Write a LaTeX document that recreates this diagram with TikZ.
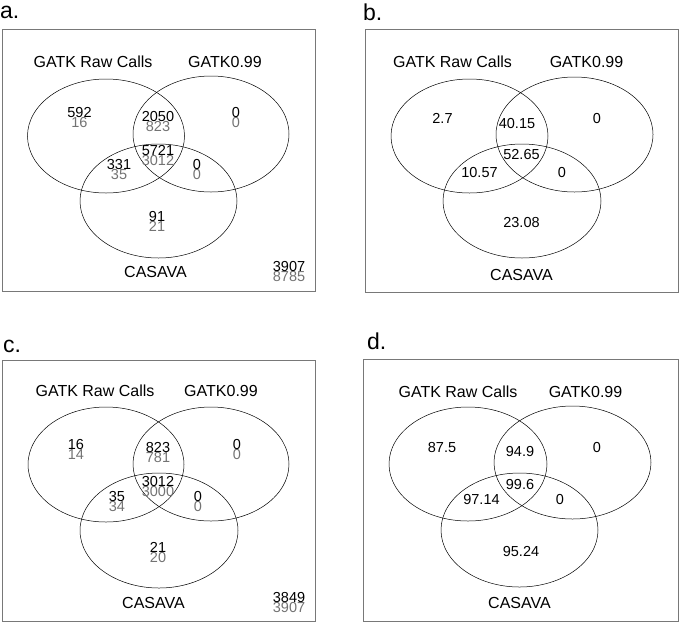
\documentclass[tikz,border=0pt]{standalone}
\usepackage{fontspec}
\setmainfont{Liberation Sans}
\definecolor{boxgray}{RGB}{120,120,120}
\definecolor{lowgray}{RGB}{115,115,115}

\begin{document}
\begin{tikzpicture}[x=1pt, y=-1pt,
    panel/.style = {draw=boxgray, line width=0.9pt},
    set/.style = {draw=black, line width=0.5pt},
    setname/.style = {inner sep=0pt, font=\fontsize{16}{16}\selectfont},
    count/.style = {inner sep=0pt, font=\fontsize{14.5}{14.5}\selectfont},
    lowcount/.style = {count, text=lowgray},
    letter/.style = {inner sep=0pt, anchor=base west, font=\fontsize{23}{23}\selectfont}]
    \useasboundingbox (0,0) rectangle (679,622);

%panel a
\begin{scope}
    \node[letter] (la) at (0,18) {a.};
    \draw[panel] (2,29) rectangle (315,291);
    \draw[set] (106,136) ellipse [x radius=78.5pt, y radius=57pt];
    \draw[set] (211,134) ellipse [x radius=78pt, y radius=58pt];
    \draw[set] (158.5,201) ellipse [x radius=78.5pt, y radius=57pt];
    \node[setname] (rawa) at (93,62) {GATK Raw Calls};
    \node[setname] (gatka) at (225,62) {GATK0.99};
    \node[setname] (casa) at (155.5,272) {CASAVA};
    % grey counts first, black counts on top
    \node[lowcount] (a1g) at (79.5,123) {16};
    \node[lowcount] (a2g) at (158,127) {823};
    \node[lowcount] (a3g) at (236,123) {0};
    \node[lowcount] (a4g) at (158,161) {3012};
    \node[lowcount] (a5g) at (119,175) {35};
    \node[lowcount] (a6g) at (197,175) {0};
    \node[lowcount] (a7g) at (157,226) {21};
    \node[lowcount] (a8g) at (289,276) {8785};
    \node[count] (a1) at (79.5,113) {592};
    \node[count] (a2) at (158,116.5) {2050};
    \node[count] (a3) at (236,113) {0};
    \node[count] (a4) at (158,151) {5721};
    \node[count] (a5) at (119,165) {331};
    \node[count] (a6) at (197,165) {0};
    \node[count] (a7) at (157,216.5) {91};
    \node[count] (a8) at (289,266.5) {3907};
\end{scope}

%panel b
\begin{scope}[shift={(363,0)}]
    \node[letter] (lb) at (0,20) {b.};
    \draw[panel] (2,29) rectangle (315,292);
    \draw[set] (106.5,136) ellipse [x radius=78.5pt, y radius=57pt];
    \draw[set] (211.5,134.5) ellipse [x radius=78.5pt, y radius=57.5pt];
    \draw[set] (159,201) ellipse [x radius=79pt, y radius=57pt];
    \node[setname] (rawb) at (89.5,62) {GATK Raw Calls};
    \node[setname] (gatkb) at (223.5,62) {GATK0.99};
    \node[setname] (casb) at (158.5,275) {CASAVA};
    \node[count] (b1) at (79.5,118.5) {2.7};
    \node[count] (b2) at (154,124) {40.15};
    \node[count] (b3) at (234,118.5) {0};
    \node[count] (b4) at (158.5,155) {52.65};
    \node[count] (b5) at (116.5,172.5) {10.57};
    \node[count] (b6) at (199,172.5) {0};
    \node[count] (b7) at (158.5,222.5) {23.08};
\end{scope}

%panel c
\begin{scope}[shift={(0,330)}]
    \node[letter] (lc) at (3,22) {c.};
    \draw[panel] (2,30) rectangle (315,291);
    \draw[set] (106,134.5) ellipse [x radius=78pt, y radius=57.5pt];
    \draw[set] (211,134) ellipse [x radius=78pt, y radius=57pt];
    \draw[set] (159,200.5) ellipse [x radius=79pt, y radius=57.5pt];
    \node[setname] (rawc) at (95,61) {GATK Raw Calls};
    \node[setname] (gatkc) at (221,61) {GATK0.99};
    \node[setname] (casc) at (153.5,273) {CASAVA};
    % grey counts first, black counts on top
    \node[lowcount] (c1g) at (76,124.5) {14};
    \node[lowcount] (c2g) at (158,127.5) {781};
    \node[lowcount] (c3g) at (237,124.5) {0};
    \node[lowcount] (c4g) at (158,161) {3000};
    \node[lowcount] (c5g) at (117,176) {34};
    \node[lowcount] (c6g) at (198,176) {0};
    \node[lowcount] (c7g) at (158,227) {20};
    \node[lowcount] (c8g) at (289,277.5) {3907};
    \node[count] (c1) at (76,114.5) {16};
    \node[count] (c2) at (158,117.5) {823};
    \node[count] (c3) at (237,114.5) {0};
    \node[count] (c4) at (158,151) {3012};
    \node[count] (c5) at (117,166) {35};
    \node[count] (c6) at (198,166) {0};
    \node[count] (c7) at (158,217) {21};
    \node[count] (c8) at (289,267.5) {3849};
\end{scope}

%panel d
\begin{scope}[shift={(363,330)}]
    \node[letter] (ld) at (4,19) {d.};
    \draw[panel] (0,29) rectangle (315,291);
    \draw[set] (105,134) ellipse [x radius=79pt, y radius=57pt];
    \draw[set] (209.5,132.5) ellipse [x radius=78.5pt, y radius=56.5pt];
    \draw[set] (156.5,200) ellipse [x radius=78.5pt, y radius=57pt];
    \node[setname] (rawd) at (95,62) {GATK Raw Calls};
    \node[setname] (gatkd) at (222.5,62) {GATK0.99};
    \node[setname] (casd) at (156.5,273) {CASAVA};
    \node[count] (d1) at (79,117.5) {87.5};
    \node[count] (d2) at (157,121) {94.9};
    \node[count] (d3) at (234,117.5) {0};
    \node[count] (d4) at (157,154) {99.6};
    \node[count] (d5) at (118.5,169) {97.14};
    \node[count] (d6) at (197,169) {0};
    \node[count] (d7) at (158,221) {95.24};
\end{scope}

\end{tikzpicture}
\end{document}
